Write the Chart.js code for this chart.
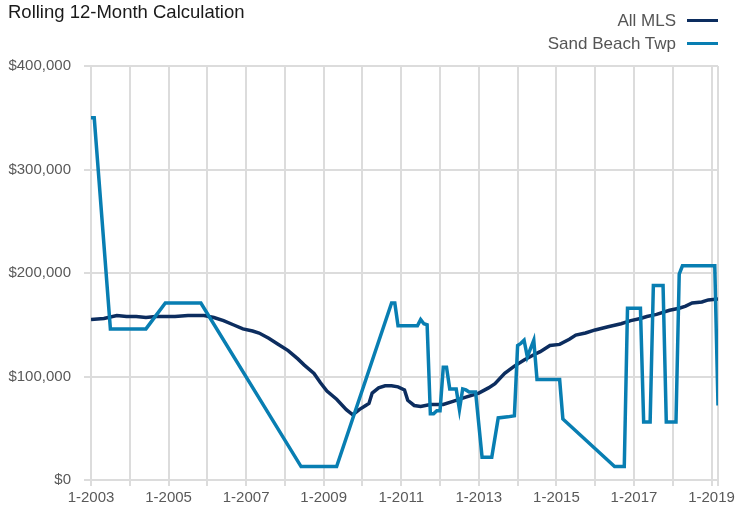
<!DOCTYPE html>
<html>
<head>
<meta charset="utf-8">
<script src="https://cdn.jsdelivr.net/npm/chart.js@4"></script>
<style>
  body { margin: 0; background: #fff; }
  #wrap { position: relative; width: 738px; height: 515px; font-family: "Liberation Sans", Arial, sans-serif; }
  #title { position: absolute; left: 8px; top: 3px; font-size: 18.5px; line-height: 18px; color: #1a1a1a; }
  #legend { position: absolute; right: 20px; top: 9px; font-size: 17px; line-height: 23px; color: #555; }
  .row { display: flex; align-items: center; justify-content: flex-end; }
  .swatch { display: inline-block; width: 31px; height: 3px; margin-left: 11px; }
</style>
</head>
<body>
<div id="wrap">
  <canvas id="chart" width="738" height="515"></canvas>
  <div id="title">Rolling 12-Month Calculation</div>
  <div id="legend"></div>
</div>
<script>
// months are counted from 1-2003 (0) to 3-2019 (194)
const firstYear = 2003;
const lastMonth = 194;

const seriesNames = ["All MLS", "Sand Beach Twp"];
const seriesColors = ["#0c2d5f", "#087eb2"];

const mlsMonths = [0, 4, 8, 11, 14, 17, 20, 22, 26, 30, 35, 38, 41, 44, 47, 50, 52, 55, 58, 61, 64, 66, 69, 71, 73, 76, 79, 81, 83, 85, 86, 87, 89, 91, 93, 95, 97, 98, 100, 102, 105, 109, 112, 116, 120, 123, 125, 128, 131, 134, 137, 139, 142, 145, 148, 150, 153, 156, 160, 164, 167, 170, 172, 175, 179, 182, 184, 186, 189, 191, 194];
const mlsValues = [155000, 156000, 159000, 158000, 158000, 157000, 158000, 158000, 158000, 159000, 159000, 157000, 154000, 150000, 146000, 144000, 142000, 137000, 131000, 125000, 117000, 111000, 103000, 94000, 86000, 78000, 68000, 63000, 68000, 72000, 74000, 84000, 89000, 91000, 91000, 90000, 87000, 77000, 72000, 71000, 73000, 73000, 76000, 80000, 84000, 89000, 93000, 103000, 110000, 116000, 121000, 124000, 130000, 131000, 136000, 140000, 142000, 145000, 148000, 151000, 154000, 156000, 158000, 160000, 164000, 166000, 168000, 171000, 172000, 174000, 175000];

const sandMonths = [0, 1, 6, 17, 23, 34, 65, 76, 93, 94, 95, 101, 102, 103, 104, 105, 106, 107, 108, 109, 110, 111, 113, 114, 115, 116, 117, 119, 121, 124, 126, 129, 131, 132, 133, 134, 135, 137, 138, 145, 146, 162, 165, 166, 170, 171, 173, 174, 177, 178, 181, 182, 183, 193, 194];
const sandValues = [350000, 350000, 146000, 146000, 171000, 171000, 13000, 13000, 171000, 171000, 149000, 149000, 155000, 151000, 150000, 64000, 64000, 67000, 67000, 109000, 109000, 88000, 88000, 68000, 88000, 87000, 85000, 85000, 22000, 22000, 60000, 61000, 62000, 130000, 132000, 135000, 119000, 135000, 97000, 97000, 59000, 13000, 13000, 166000, 166000, 56000, 56000, 188000, 188000, 56000, 56000, 199000, 207000, 207000, 72000];

const yTicks = [0, 100000, 200000, 300000, 400000];

const toPoints = (months, values) => months.map((m, i) => ({ x: m, y: values[i] }));

// gridline every January, plus the last month
const xTicks = [];
for (let m = 0; m <= lastMonth; m += 12) xTicks.push(m);
xTicks.push(lastMonth);

const legend = document.getElementById("legend");
seriesNames.forEach((name, i) => {
  const row = document.createElement("div");
  row.className = "row";
  row.innerHTML = '<span>' + name + '</span><span class="swatch" style="background:' + seriesColors[i] + '"></span>';
  legend.appendChild(row);
});

const gridColor = "#dcdcdc";
const font = { family: "'Liberation Sans', Arial, sans-serif", size: 15 };

new Chart(document.getElementById("chart"), {
  type: "line",
  data: {
    datasets: [
      {
        label: seriesNames[0],
        data: toPoints(mlsMonths, mlsValues),
        borderColor: seriesColors[0],
        borderWidth: 3.5,
        order: 1,
      },
      {
        label: seriesNames[1],
        data: toPoints(sandMonths, sandValues),
        borderColor: seriesColors[1],
        borderWidth: 3.5,
        order: 0,
      },
    ],
  },
  options: {
    responsive: false,
    animation: false,
    elements: { point: { radius: 0 }, line: { tension: 0 } },
    layout: { padding: { top: 66, right: 20, left: 0, bottom: 0 } },
    plugins: { legend: { display: false }, tooltip: { enabled: false } },
    scales: {
      x: {
        type: "linear",
        min: 0,
        max: lastMonth,
        afterBuildTicks: (s) => { s.ticks = xTicks.map((v) => ({ value: v })); },
        afterFit: (s) => { s.height = 35; },
        grid: { color: gridColor, lineWidth: 2, tickLength: 6 },
        border: { color: gridColor, width: 2 },
        ticks: {
          autoSkip: false,
          maxRotation: 0,
          padding: 3,
          color: "#595959",
          font: font,
          callback: (v) => (v % 24 === 0 ? "1-" + (firstYear + v / 12) : ""),
        },
      },
      y: {
        min: 0,
        max: 400000,
        afterBuildTicks: (s) => { s.ticks = yTicks.map((v) => ({ value: v })); },
        afterFit: (s) => { s.width = 91; },
        grid: { color: gridColor, lineWidth: 2, tickLength: 7 },
        border: { color: gridColor, width: 2 },
        ticks: {
          padding: 13,
          color: "#595959",
          font: font,
          callback: (v) => "$" + v.toLocaleString("en-US"),
        },
      },
    },
  },
});
</script>
</body>
</html>
